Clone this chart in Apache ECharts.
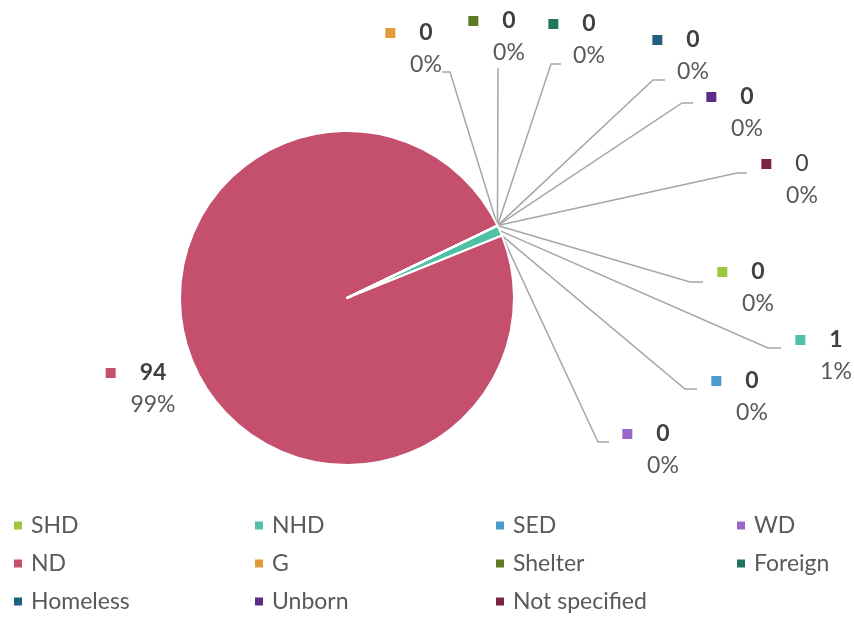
<!DOCTYPE html>
<html>
<head>
<meta charset="utf-8">
<script src="https://cdn.jsdelivr.net/npm/echarts@6/dist/echarts.min.js"></script>
<style>
html,body{margin:0;padding:0;background:#fff;}
#chart{width:854px;height:617px;}
</style>
</head>
<body>
<div id="chart"></div>
<script>
// ---- data ----
const categories = ['SHD', 'NHD', 'SED', 'WD', 'ND', 'G', 'Shelter', 'Foreign', 'Homeless', 'Unborn', 'Not specified'];
const values = [0, 1, 0, 0, 94, 0, 0, 0, 0, 0, 0];

// ---- styles / layout ----
const colors = ['#9DC73F', '#4FC1A5', '#4A9BD0', '#9B66CC', '#C4506E', '#E09B3D', '#5E7A22', '#21755F', '#22607F', '#5B2C86', '#7B2440'];
const boldValue = [true, true, true, true, true, true, true, true, true, true, false];
// label anchor: [centre x of value, centre y of value line]
const labelPos = [[758, 272], [836, 340], [752, 381], [663, 434], [153, 373], [426, 33], [509, 21], [589, 24], [693, 40], [747, 97], [802, 164]];
// leader line elbow/end offsets relative to label anchor: [elbowDx, elbowDy, endDx, endDy]
const lineOffsets = [[-68, 10, -55, 10], [-68, 8, -55, 8], [-67, 8, -55, 8], [-65, 8, -54, 8], null, [24, 39, 16, 39], [-11, 47, -11, 47], [-38, 40, -28, 40], [-40, 40, -28, 40], [-65, 6, -54, 6], [-65, 9, -55, 9]];

const FONT = 'Lato';
const FS = 23;
const chart = echarts.init(document.getElementById('chart'), null, { renderer: 'canvas' });

const rich = {
  g: { width: 24, height: 10 },
  r: { width: 34, height: 10 },
  v: { fontFamily: FONT, fontSize: FS, fontWeight: 'bold', color: '#404040', lineHeight: 32, verticalAlign: 'middle' },
  vn: { fontFamily: FONT, fontSize: FS, fontWeight: 'normal', color: '#404040', lineHeight: 32, verticalAlign: 'middle' },
  p: { fontFamily: FONT, fontSize: FS, color: '#595959', lineHeight: 32, verticalAlign: 'middle' }
};
categories.forEach(function (c, i) {
  rich['m' + i] = { width: 10, height: 10, backgroundColor: colors[i], verticalAlign: 'middle' };
});

const data = categories.map(function (name, i) {
  const item = { name: name, value: values[i], itemStyle: { color: colors[i] } };
  if (!lineOffsets[i]) item.labelLine = { show: false };
  return item;
});

// legends: 4 columns
const legends = [0, 1, 2, 3].map(function (col) {
  return {
    data: categories.filter(function (_, i) { return i % 4 === col; }),
    orient: 'vertical',
    left: 12 + col * 241,
    top: 514,
    height: 200,
    padding: 0,
    itemWidth: 10,
    itemHeight: 10,
    itemGap: 15,
    icon: 'rect',
    selectedMode: false,
    textStyle: { fontFamily: FONT, fontSize: FS, color: '#595959', lineHeight: 20, padding: [0, 0, 0, 3] }
  };
});

chart.setOption({
  animation: false,
  color: colors,
  legend: legends,
  series: [{
    type: 'pie',
    center: [347, 298],
    radius: 167,
    startAngle: 25.7,
    clockwise: true,
    avoidLabelOverlap: false,
    minShowLabelAngle: 0,
    itemStyle: { borderColor: '#ffffff', borderWidth: 2 },
    emphasis: { disabled: true },
    label: {
      show: true,
      position: 'outside',
      align: 'center',
      formatter: function (p) {
        const i = p.dataIndex;
        const vs = boldValue[i] ? 'v' : 'vn';
        return '{m' + i + '| }{g| }{' + vs + '|' + p.value + '}{r| }\n{p|' + Math.round(p.percent) + '%}';
      },
      rich: rich
    },
    labelLine: { show: true, smooth: false, length: 10, length2: 10, lineStyle: { color: '#A6A6A6', width: 1.5 } },
    labelLayout: function (p) {
      const i = p.dataIndex;
      const pos = labelPos[i];
      const res = { x: pos[0], y: pos[1] - 16, align: 'center', verticalAlign: 'top' };
      const o = lineOffsets[i];
      if (o && p.labelLinePoints) {
        const s = p.labelLinePoints[0];
        res.labelLinePoints = [[s[0], s[1]], [pos[0] + o[0], pos[1] + o[1]], [pos[0] + o[2], pos[1] + o[3]]];
      }
      return res;
    },
    data: data
  }]
});
</script>
</body>
</html>
